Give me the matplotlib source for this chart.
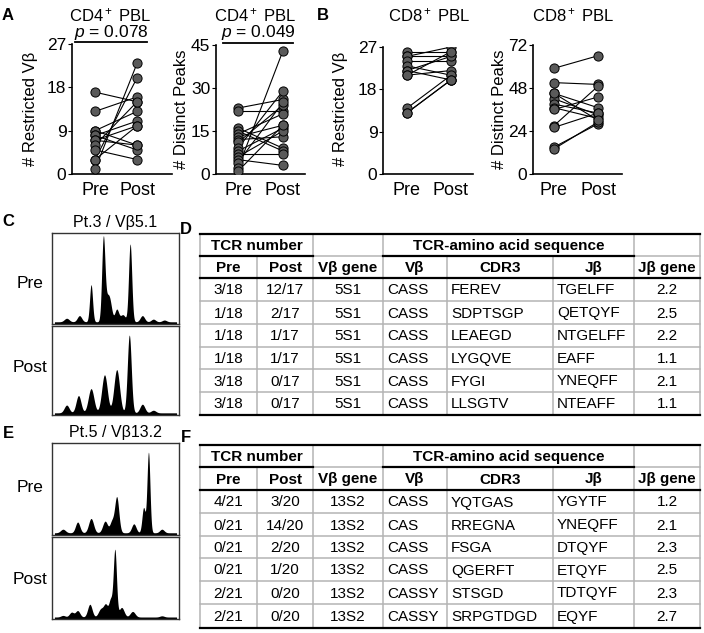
import numpy as np
import matplotlib
matplotlib.use("Agg")
import matplotlib.pyplot as plt

plt.rcParams["font.family"] = ["Liberation Sans", "DejaVu Sans"]
plt.rcParams["mathtext.fontset"] = "custom"
plt.rcParams["mathtext.rm"] = "Liberation Sans"
plt.rcParams["mathtext.it"] = "Liberation Sans:italic"

W, H = 704, 633

############### Data ###############
groups = ["Pre", "Post"]

cd4_vb_pre = [17, 13, 9, 9, 8, 8, 7, 7, 6, 5, 3, 3, 1]
cd4_vb_post = [15, 16, 13, 6, 11, 5, 10, 6, 15, 3, 10, 20, 23]

cd4_pk_pre = [23, 22, 16, 15, 14, 13, 12, 11, 9, 8, 7, 6, 5, 4, 2, 1]
cd4_pk_post = [26, 22, 9, 8, 21, 17, 13, 24, 29, 16, 7, 15, 3, 25, 43, 17]

cd8_vb_pre = [26, 25, 25, 24, 23, 22, 22, 21, 21, 14, 13, 13]
cd8_vb_post = [26, 25, 27, 24, 21, 25, 20, 26, 22, 21, 20, 20]

cd8_pk_pre = [59, 51, 45, 42, 39, 37, 36, 27, 26, 15, 14, 45]
cd8_pk_post = [66, 50, 37, 33, 34, 31, 43, 49, 34, 28, 29, 30]

# spectratype peaks: position in box (0-1), relative height, width
c_pre_pos = [0.10, 0.205, 0.30, 0.40, 0.43, 0.455, 0.51, 0.56, 0.62, 0.72, 0.81, 0.90]
c_pre_h = [0.04, 0.07, 0.42, 0.9, 0.22, 0.16, 0.14, 0.08, 0.88, 0.07, 0.03, 0.02]
c_pre_w = [0.02, 0.018, 0.012, 0.013, 0.02, 0.017, 0.016, 0.02, 0.013, 0.018, 0.018, 0.018]

c_post_pos = [0.10, 0.197, 0.30, 0.41, 0.51, 0.613, 0.72, 0.81]
c_post_h = [0.09, 0.2, 0.28, 0.44, 0.5, 0.9, 0.1, 0.03]
c_post_w = [0.02, 0.02, 0.023, 0.023, 0.023, 0.016, 0.02, 0.02]

e_pre_pos = [0.07, 0.19, 0.30, 0.415, 0.47, 0.51, 0.65, 0.73, 0.77, 0.88]
e_pre_h = [0.04, 0.12, 0.16, 0.13, 0.12, 0.4, 0.1, 0.28, 0.9, 0.04]
e_pre_w = [0.02, 0.018, 0.02, 0.02, 0.016, 0.017, 0.018, 0.013, 0.012, 0.018]

e_post_pos = [0.07, 0.14, 0.19, 0.29, 0.38, 0.42, 0.46, 0.495, 0.55, 0.64, 0.88]
e_post_h = [0.02, 0.06, 0.08, 0.16, 0.1, 0.15, 0.21, 0.84, 0.12, 0.07, 0.015]
e_post_w = [0.018, 0.018, 0.018, 0.018, 0.02, 0.017, 0.014, 0.013, 0.02, 0.02, 0.018]

# tables
hdr_cols = ["Pre", "Post", "V\u03b2 gene", "V\u03b2", "CDR3", "J\u03b2", "J\u03b2 gene"]

d_pre = ["3/18", "1/18", "1/18", "1/18", "3/18", "3/18"]
d_post = ["12/17", "2/17", "1/17", "1/17", "0/17", "0/17"]
d_vgene = ["5S1", "5S1", "5S1", "5S1", "5S1", "5S1"]
d_vb = ["CASS", "CASS", "CASS", "CASS", "CASS", "CASS"]
d_cdr3 = ["FEREV", "SDPTSGP", "LEAEGD", "LYGQVE", "FYGI", "LLSGTV"]
d_jb = ["TGELFF", "QETQYF", "NTGELFF", "EAFF", "YNEQFF", "NTEAFF"]
d_jgene = ["2.2", "2.5", "2.2", "1.1", "2.1", "1.1"]

f_pre = ["4/21", "0/21", "0/21", "0/21", "2/21", "2/21"]
f_post = ["3/20", "14/20", "2/20", "1/20", "0/20", "0/20"]
f_vgene = ["13S2", "13S2", "13S2", "13S2", "13S2", "13S2"]
f_vb = ["CASS", "CAS", "CASS", "CASS", "CASSY", "CASSY"]
f_cdr3 = ["YQTGAS", "RREGNA", "FSGA", "QGERFT", "STSGD", "SRPGTDGD"]
f_jb = ["YGYTF", "YNEQFF", "DTQYF", "ETQYF", "TDTQYF", "EQYF"]
f_jgene = ["1.2", "2.1", "2.3", "2.5", "2.3", "2.7"]

############### Helpers ###############
fig = plt.figure(figsize=(W / 100, H / 100), dpi=100)


def add_ax(left, top, right, bottom):
    return fig.add_axes([left / W, 1 - bottom / H, (right - left) / W, (bottom - top) / H])


def paired_plot(ax, pre, post, ymax, yticks, xlim):
    for a, b in zip(pre, post):
        ax.plot([0, 1], [a, b], c="black", lw=0.8, zorder=2)
    ax.plot(np.zeros(len(pre)), pre, "o", ms=6.6, mfc="#5a5a5a", mec="black", mew=0.7, zorder=3)
    ax.plot(np.ones(len(post)), post, "o", ms=6.6, mfc="#5a5a5a", mec="black", mew=0.7, zorder=3)
    ax.set_ylim(0, ymax)
    ax.set_xlim(*xlim)
    ax.set_yticks(yticks)
    ax.set_xticks([0, 1])
    ax.set_xticklabels(groups)
    ax.tick_params(axis="y", length=3, width=0.8, labelsize=12.5, pad=1)
    ax.tick_params(axis="x", length=0, labelsize=13, pad=6)
    for s in ["top", "right"]:
        ax.spines[s].set_visible(False)
    for s in ["left", "bottom"]:
        ax.spines[s].set_linewidth(1.2)
    ax.patch.set_alpha(0)


def spectra(ax, pos, hts, wds):
    x = np.linspace(0, 1, 800)
    y = np.full_like(x, 0.025)
    for p, h, w in zip(pos, hts, wds):
        y = y + h * np.exp(-0.5 * ((x - p) / w) ** 2)
    ax.fill_between(x, 0, y, color="black", lw=0)
    ax.set_xlim(-0.02, 1.02)
    ax.set_ylim(0, 1.03)
    ax.set_xticks([])
    ax.set_yticks([])
    for s in ax.spines.values():
        s.set_linewidth(1.0)
        s.set_color("#333333")


############### Panels A / B ###############
ax1 = add_ax(72, 44, 172, 174)
paired_plot(ax1, cd4_vb_pre, cd4_vb_post, 27, [0, 9, 18, 27], (-0.548, 1.83))
ax2 = add_ax(216, 45, 305, 174)
paired_plot(ax2, cd4_pk_pre, cd4_pk_post, 45, [0, 15, 30, 45], (-0.49, 1.49))
ax3 = add_ax(383, 47, 473, 174)
paired_plot(ax3, cd8_vb_pre, cd8_vb_post, 27, [0, 9, 18, 27], (-0.545, 1.5))
ax4 = add_ax(533, 45, 622, 174)
paired_plot(ax4, cd8_pk_pre, cd8_pk_post, 72, [0, 24, 48, 72], (-0.477, 1.545))

############### Panels C / E ###############
spectra(add_ax(52, 233, 179, 324), c_pre_pos, c_pre_h, c_pre_w)
spectra(add_ax(52, 326, 179, 415), c_post_pos, c_post_h, c_post_w)
spectra(add_ax(52, 443, 179, 535), e_pre_pos, e_pre_h, e_pre_w)
spectra(add_ax(52, 537, 179, 619), e_post_pos, e_post_h, e_post_w)

############### Overlay (text and tables) ###############
ov = fig.add_axes([0, 0, 1, 1])
ov.set_xlim(0, W)
ov.set_ylim(H, 0)
ov.axis("off")
ov.patch.set_alpha(0)

fs = 11
for lab, x, y in [("A", 8, 16), ("B", 323, 16), ("C", 8, 221), ("D", 186, 229),
                  ("E", 8, 433), ("F", 186, 437)]:
    ov.text(x, y, lab, fontsize=12, fontweight="bold", ha="center", va="center")

for x in [110, 255]:
    ov.text(x, 15, "CD4$^+$ PBL", fontsize=12, ha="center", va="center")
for x in [429, 573]:
    ov.text(x, 15, "CD8$^+$ PBL", fontsize=12, ha="center", va="center")

ov.text(111, 32, "$p$ = 0.078", fontsize=12.5, ha="center", va="center")
ov.plot([75, 147], [42, 42], c="black", lw=1.3)
ov.text(258, 32, "$p$ = 0.049", fontsize=12.5, ha="center", va="center")
ov.plot([223, 293], [43, 43], c="black", lw=1.3)

for x, t in [(31, "# Restricted V\u03b2"), (181, "# Distinct Peaks"),
             (341, "# Restricted V\u03b2"), (500, "# Distinct Peaks")]:
    ov.text(x, 109, t, fontsize=12, rotation=90, ha="center", va="center")

ov.text(115, 223, "Pt.3 / V\u03b25.1", fontsize=11.5, ha="center", va="center")
ov.text(115, 433, "Pt.5 / V\u03b213.2", fontsize=11.5, ha="center", va="center")
for y, t in [(284, "Pre"), (367, "Post"), (488, "Pre"), (580, "Post")]:
    ov.text(30, y, t, fontsize=12.5, ha="center", va="center")

col_x = [200, 257, 313, 383, 447, 553, 634, 700]
left_cols = [3, 4, 5]
grey = "#b4b4b4"


def draw_table(rows_y, cols):
    y0, y1, y2 = rows_y[0], rows_y[1], rows_y[2]
    # grey grid
    for yy in rows_y[3:-1]:
        ov.plot([col_x[0], col_x[-1]], [yy, yy], c=grey, lw=1.1, zorder=1)
    ov.plot([col_x[2], col_x[3]], [y1, y1], c=grey, lw=1.1, zorder=1)
    ov.plot([col_x[6], col_x[7]], [y1, y1], c=grey, lw=1.1, zorder=1)
    for i, xx in enumerate(col_x):
        top = y0 if i in (0, 2, 3, 6, 7) else y1
        ov.plot([xx, xx], [top, rows_y[-1]], c=grey, lw=1.1, zorder=1)
    # black rules
    ov.plot([col_x[0], col_x[-1]], [y0, y0], c="black", lw=1.6, zorder=2)
    ov.plot([col_x[0], col_x[2]], [y1, y1], c="black", lw=1.6, zorder=2)
    ov.plot([col_x[3], col_x[6]], [y1, y1], c="black", lw=1.6, zorder=2)
    ov.plot([col_x[0], col_x[-1]], [y2, y2], c="black", lw=1.6, zorder=2)
    ov.plot([col_x[0], col_x[-1]], [rows_y[-1], rows_y[-1]], c="black", lw=1.6, zorder=2)
    # header text
    ov.text((col_x[0] + col_x[2]) / 2, (y0 + y1) / 2 + 1, "TCR number", fontsize=fs,
            fontweight="bold", ha="center", va="center")
    ov.text((col_x[3] + col_x[6]) / 2, (y0 + y1) / 2 + 1, "TCR-amino acid sequence",
            fontsize=fs, fontweight="bold", ha="center", va="center")
    for i, t in enumerate(hdr_cols):
        ov.text((col_x[i] + col_x[i + 1]) / 2, (y1 + y2) / 2 + 1, t, fontsize=fs,
                fontweight="bold", ha="center", va="center")
    for r in range(len(cols[0])):
        yc = (rows_y[r + 2] + rows_y[r + 3]) / 2 + 1
        for i, col in enumerate(cols):
            if i in left_cols:
                ov.text(col_x[i] + 4, yc, col[r], fontsize=fs, ha="left", va="center")
            else:
                ov.text((col_x[i] + col_x[i + 1]) / 2, yc, col[r], fontsize=fs,
                        ha="center", va="center")


draw_table([234, 256, 278, 301, 324, 347, 369, 392, 415],
           [d_pre, d_post, d_vgene, d_vb, d_cdr3, d_jb, d_jgene])
draw_table([445, 467, 490, 513, 536, 558, 581, 604, 628],
           [f_pre, f_post, f_vgene, f_vb, f_cdr3, f_jb, f_jgene])

fig.savefig("out.png", dpi=100)
